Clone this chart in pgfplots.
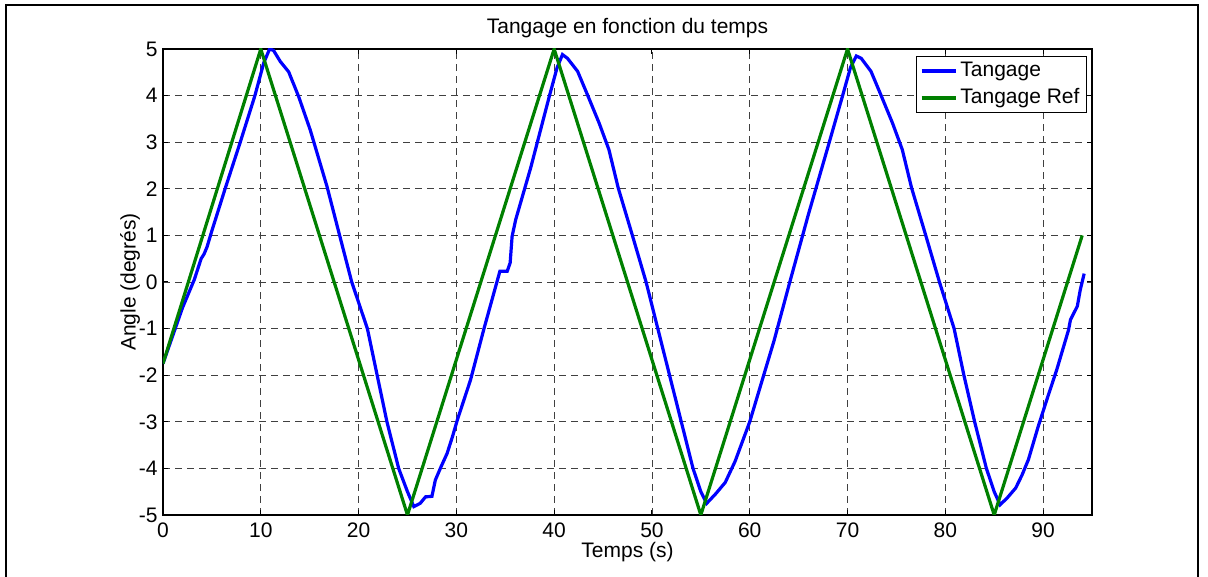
\documentclass[border=0pt]{standalone}
\usepackage{pgfplots}
\pgfplotsset{compat=1.18}
\usepackage{fontspec}
\setmainfont{Liberation Sans}
\newcommand{\ff}{\fontsize{10.5}{12}\selectfont}
\definecolor{mblue}{RGB}{0,0,255}
\definecolor{mgreen}{RGB}{0,128,0}
\begin{document}
\begin{tikzpicture}
\path[use as bounding box] (-81.5pt,-31pt) rectangle (522.5pt,257.5pt);
\draw[line width=1.1pt, black] (-78.5pt,-32pt) -- (-78.5pt,255pt) -- (517.5pt,255pt) -- (517.5pt,-32pt);
\begin{axis}[
  at={(0pt,0pt)}, anchor=south west,
  width=464.5pt, height=233pt, scale only axis,
  xmin=0, xmax=95, ymin=-5, ymax=5,
  xtick={0,10,...,90}, ytick={-5,-4,...,5},
  /pgf/number format/assume math mode=true,
  tick align=inside, tick pos=both, major tick length=2.5pt,
  tick style={black, line width=0.5pt},
  axis line style={black, line width=0.8pt},
  grid=major,
  major grid style={dash pattern=on 3.5pt off 2.5pt, black!75, line width=0.4pt},
  ticklabel style={font=\ff},
  xticklabel style={anchor=base, yshift=-11.5pt},
  yticklabel style={anchor=east, inner sep=0pt, xshift=-2.5pt},
  title={Tangage en fonction du temps},
  title style={font=\ff, at={(axis description cs:0.5,1)}, anchor=base, yshift=1.5pt},
  xlabel={Temps (s)},
  xlabel style={font=\ff, at={(axis description cs:0.5,0)}, anchor=base, yshift=-21pt},
  ylabel={Angle (degrés)},
  ylabel style={font=\ff, at={(axis description cs:-0.0355,0.5)}, anchor=center},
  legend style={font=\ff, at={(axis description cs:1,1)}, anchor=north east,
    xshift=-2.5pt, yshift=-3.5pt, draw=black, line width=0.5pt, fill=white,
    inner xsep=2pt, inner ysep=0.5pt, row sep=0pt,
    nodes={inner sep=1.5pt, text height=8pt, text depth=2.5pt}},
  legend cell align=left,
]
\addplot[mblue, line width=1.6pt] coordinates {
(0,-1.75) (1.0,-1.15) (2.0,-0.55) (3.2,0.05) (3.9,0.5) (4.2,0.6) (4.5,0.75) (5.0,1.1)
(6.35,2.0) (7.9,3.0) (9.4,4.0) (10.3,4.7) (10.9,5.0) (11.3,4.97) (12.0,4.73) (12.85,4.51)
(13.87,3.98) (15.06,3.26) (16.77,2.05) (18.0,1.05) (19.3,0.0) (20.9,-1.0) (21.9,-2.0)
(22.9,-3.0) (24.1,-4.0) (25.0,-4.5) (25.65,-4.82) (26.3,-4.75) (26.85,-4.61) (27.5,-4.6)
(27.85,-4.25) (28.4,-3.98) (29.05,-3.68) (29.6,-3.32) (30.1,-2.96) (31.45,-2.1) (32.8,-1.02)
(34.45,0.23) (35.2,0.23) (35.5,0.41) (35.7,0.98) (36.07,1.34) (37.6,2.45) (39.5,3.98)
(40.3,4.6) (40.85,4.88) (41.36,4.8) (42.4,4.52) (43.4,4.02) (44.6,3.41) (45.6,2.84)
(46.55,2.02) (48.0,1.0) (49.4,0.0) (51.2,-1.5) (53.0,-3.0) (54.2,-4.0) (55.0,-4.5)
(55.6,-4.75) (56.5,-4.55) (57.5,-4.3) (58.5,-3.85) (60.0,-3.0) (62.5,-1.25) (64.1,0.0)
(66.0,1.45) (68.0,2.9) (69.5,4.0) (70.3,4.6) (70.9,4.85) (71.4,4.8) (72.4,4.52) (73.4,4.02)
(74.6,3.41) (75.6,2.84) (76.55,2.02) (78.0,1.0) (79.4,0.0) (80.9,-1.0) (81.9,-2.0)
(83.0,-3.0) (84.2,-4.0) (85.0,-4.5) (85.6,-4.78) (86.3,-4.64) (87.2,-4.42) (87.85,-4.14)
(88.5,-3.81) (89.5,-3.1) (90.5,-2.45) (91.4,-1.88) (92.6,-1.03) (92.8,-0.81) (93.5,-0.52)
(93.8,-0.17) (94.2,0.18)
};
\addlegendentry{Tangage}
\addplot[mgreen, line width=1.6pt] coordinates {
(0,-1.75) (10,5) (25,-5) (40,5) (55,-5) (70,5) (85,-5) (94,1)
};
\addlegendentry{Tangage Ref}
\end{axis}
\end{tikzpicture}
\end{document}
